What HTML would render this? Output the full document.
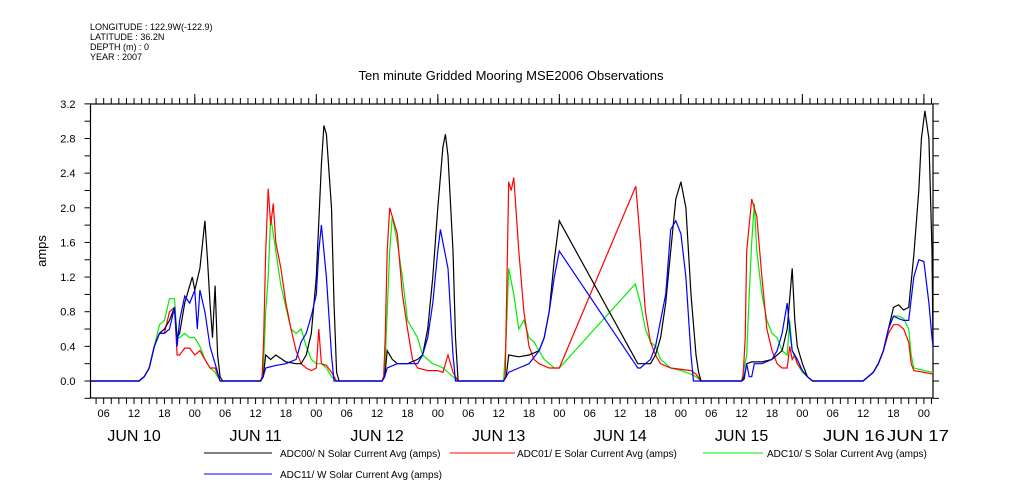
<!DOCTYPE html>
<html><head><meta charset="utf-8"><style>
body{margin:0;background:#fff;}
svg{display:block;font-family:"Liberation Sans",sans-serif;}
</style></head><body>
<svg id="chart" width="1009" height="504">
<g font-size="9" fill="#000">
<text x="90" y="30">LONGITUDE : 122.9W(-122.9)</text>
<text x="90" y="40">LATITUDE : 36.2N</text>
<text x="90" y="50">DEPTH (m) : 0</text>
<text x="90" y="60">YEAR : 2007</text>
</g>
<text x="511" y="80" text-anchor="middle" font-size="13">Ten minute Gridded Mooring MSE2006 Observations</text>
<text transform="translate(46,251) rotate(-90)" text-anchor="middle" font-size="13">amps</text>
<g id="axes"></g>
<g id="series"></g>
<g id="legend" font-size="10"></g>
</svg>
<script>
const yTicks=[0,0.4,0.8,1.2,1.6,2.0,2.4,2.8,3.2];
const hourLabels=["06","12","18","00"];
const dayLabels=["JUN 10","JUN 11","JUN 12","JUN 13","JUN 14","JUN 15"];
const seriesNames=["ADC00/ N Solar Current Avg (amps)","ADC01/ E Solar Current Avg (amps)","ADC10/ S Solar Current Avg (amps)","ADC11/ W Solar Current Avg (amps)"];
const common0=[[3.4,0],[13,0],[14,0.05],[15,0.15],[16,0.4]];
const seriesN=[...common0,[17,0.55],[18,0.6],[19,0.7],[20,0.85],[20.5,0.5],[21,0.55],[22,0.9],[23,1.1],[23.5,1.2],[24,1.05],[25,1.3],[26,1.85],[26.5,1.4],[27,0.9],[27.5,0.5],[28,1.1],[28.5,0.3],[29,0.05],[29.5,0],
[37,0],[37.5,0.05],[38,0.3],[39,0.25],[40,0.3],[42,0.22],[44,0.2],[45,0.2],[46,0.3],[47,0.55],[48,1.2],[49,2.5],[49.5,2.95],[50,2.85],[51,2.0],[51.5,0.9],[52,0.1],[52.5,0],
[61,0],[61.5,0.05],[62,0.35],[63,0.25],[64,0.2],[66,0.2],[68,0.25],[69,0.3],[70,0.6],[71,1.2],[72,2.0],[73,2.7],[73.5,2.85],[74,2.6],[75,1.5],[75.5,0.5],[76,0],
[85,0],[85.5,0.05],[86,0.3],[88,0.28],[90,0.3],[92,0.35],[93,0.5],[94,0.8],[95,1.4],[96,1.85],
[111.5,0.2],[113,0.2],[114,0.2],[115,0.3],[116,0.5],[117,0.9],[118,1.5],[119,2.1],[120,2.3],[121,2.0],[122,1.0],[123,0.3],[123.5,0.1],[124,0],
[132,0],[132.5,0.02],[133,0.2],[134,0.22],[136,0.22],[138,0.25],[140,0.35],[141,0.6],[142,1.3],[142.5,0.7],[143,0.4],[144,0.2],[145,0.05],[146,0],
[156,0],[158,0.1],[159,0.2],[160,0.35],[161,0.6],[162,0.85],[163,0.88],[164,0.82],[165,0.85],[166,1.45],[167,2.2],[167.5,2.8],[168.2,3.12],[169,2.8],[169.6,1.5],[169.8,0.4]];
const seriesE=[...common0,[17,0.55],[18,0.55],[19,0.8],[20,0.85],[20.5,0.3],[21,0.3],[22,0.38],[23,0.38],[24,0.3],[25,0.35],[26,0.25],[27,0.15],[28,0.15],[29,0],
[37,0],[37.3,0.05],[37.6,0.5],[38,1.5],[38.5,2.22],[39,1.8],[39.5,2.05],[40,1.6],[41,1.3],[42,0.9],[43,0.6],[44,0.35],[45,0.2],[46,0.15],[47,0.12],[48,0.15],[48.5,0.6],[49,0.2],[50,0.18],[51,0.1],[52,0],
[61,0],[61.3,0.05],[61.6,0.5],[62,1.5],[62.5,2.0],[63,1.9],[64,1.7],[65,1.0],[66,0.6],[67,0.25],[68,0.15],[70,0.12],[72,0.12],[73,0.1],[74,0.3],[75,0.1],[76,0],
[85,0],[85.3,0.05],[85.6,1.0],[86,2.3],[86.5,2.2],[87,2.35],[88,1.5],[89,0.8],[90,0.4],[91,0.25],[92,0.2],[94,0.15],[96,0.15],
[111.1,2.25],[112,1.6],[113,0.8],[114,0.45],[115,0.3],[116,0.2],[118,0.15],[122,0.12],[123,0.08],[124,0],
[132,0],[132.3,0.05],[132.7,0.5],[133,1.5],[134,2.1],[135,1.9],[136,1.2],[137,0.6],[138,0.35],[139,0.2],[140,0.15],[141,0.15],[141.5,0.4],[142,0.25],[142.5,0.3],[143,0.2],[144,0.12],[145,0.05],[146,0],
[156,0],[158,0.1],[159,0.2],[160,0.35],[161,0.55],[162,0.65],[163,0.65],[164,0.6],[165,0.45],[165.5,0.2],[166,0.12],[168,0.1],[169.8,0.08]];
const seriesS=[...common0,[17,0.65],[18,0.7],[19,0.95],[20,0.95],[20.5,0.5],[21,0.5],[22,0.55],[23,0.5],[24,0.5],[25,0.4],[26,0.25],[27,0.15],[28,0.1],[29,0],
[37,0],[37.5,0.1],[38,0.8],[38.5,1.2],[39,1.9],[40,1.5],[41,1.1],[42,0.85],[43,0.6],[44,0.55],[45,0.6],[46,0.4],[47,0.25],[48,0.2],[49,0.2],[50,0.15],[51,0.05],[52,0],
[61,0],[61.5,0.1],[62,0.8],[62.5,1.5],[63,1.9],[64,1.6],[65,1.2],[66,0.7],[67,0.6],[68,0.5],[69,0.3],[70,0.25],[71,0.2],[72,0.18],[73,0.15],[74,0.1],[75,0.05],[76,0],
[85,0],[85.5,0.5],[86,1.3],[87,1.0],[88,0.6],[89,0.7],[90,0.5],[91,0.45],[92,0.35],[93,0.25],[94,0.2],[95,0.15],[96,0.15],
[111,1.12],[112,0.9],[113,0.6],[114,0.45],[115,0.4],[116,0.25],[117,0.2],[118,0.15],[120,0.12],[122,0.08],[123,0.05],[124,0],
[132,0],[133,0.3],[133.5,1.0],[134,1.6],[134.5,2.05],[135,1.5],[136,1.0],[137,0.7],[138,0.55],[139,0.5],[140,0.35],[141,0.3],[141.5,0.7],[142,0.35],[143,0.2],[144,0.1],[145,0.05],[146,0],
[156,0],[158,0.1],[159,0.2],[160,0.35],[161,0.6],[162,0.75],[163,0.75],[164,0.72],[165,0.6],[165.5,0.3],[166,0.15],[168,0.12],[169.8,0.1]];
const seriesW=[...common0,[17,0.55],[18,0.55],[19,0.6],[20,0.85],[20.5,0.4],[21,0.7],[22,0.98],[23,0.9],[24,1.05],[24.5,0.6],[25,1.05],[26,0.8],[27,0.4],[28,0.2],[29,0],
[37,0],[37.5,0.05],[38,0.15],[40,0.18],[42,0.2],[44,0.25],[45,0.45],[46,0.55],[47,0.75],[48,1.0],[48.5,1.5],[49,1.8],[49.5,1.5],[50,1.2],[51,0.3],[51.5,0],
[61,0],[61.5,0.05],[62,0.15],[64,0.2],[66,0.2],[68,0.2],[69,0.3],[70,0.5],[71,0.9],[72,1.5],[72.5,1.75],[73,1.6],[74,1.3],[75,0.3],[75.5,0],
[85,0],[85.5,0.05],[86,0.1],[88,0.15],[90,0.2],[92,0.35],[93,0.5],[94,0.8],[95,1.2],[96,1.5],
[111.5,0.15],[112,0.15],[113,0.2],[114,0.25],[115,0.4],[116,0.7],[117,1.0],[118,1.75],[119,1.85],[120,1.7],[121,1.2],[122,0.3],[122.5,0],
[132,0],[132.5,0.05],[133,0.2],[133.5,0.05],[134,0.05],[134.5,0.2],[136,0.2],[138,0.25],[139,0.35],[140,0.55],[141,0.9],[141.5,0.6],[142,0.35],[143,0.25],[144,0.12],[145,0.05],[146,0],
[156,0],[158,0.1],[159,0.2],[160,0.35],[161,0.6],[162,0.75],[163,0.72],[164,0.7],[165,0.7],[166,1.2],[167,1.4],[168,1.38],[169,0.9],[169.6,0.5],[169.8,0.4]];
const colors=["#000","#f00","#0e0","#00f"];

const NS="http://www.w3.org/2000/svg";
const L=90.5,R=933,T=104,B=398,hStart=3.4,hEnd=169.8;
const xs=h=>L+(h-hStart)*(R-L)/(hEnd-hStart);
const ys=v=>381-v*86.6;
function mk(tag,attrs,parent){const e=document.createElementNS(NS,tag);for(const k in attrs)e.setAttribute(k,attrs[k]);parent.appendChild(e);return e;}
const axes=document.getElementById('axes');
let fr=mk('rect',{x:L,y:T,width:R-L,height:B-T,fill:'none',stroke:'#000','stroke-width':1.2},axes);


yTicks.forEach(v=>{
 const y=ys(v);
 let t=mk('line',{x1:L-6,x2:L,y1:y,y2:y,stroke:'#000'},axes);
 
 
 let t2=mk('line',{x1:R,x2:R+6,y1:y,y2:y,stroke:'#000'},axes);
 
 
 let tx=mk('text',{x:L-15,y:y+4,'text-anchor':'end','font-size':11},axes);
 tx.textContent=v.toFixed(1);
 
 
});
for(let v=-0.2;v<3.2;v+=0.4){const y=ys(v);
 let t=mk('line',{x1:L-6,x2:L,y1:y,y2:y,stroke:'#000'},axes);
 
 
 let t2=mk('line',{x1:R,x2:R+6,y1:y,y2:y,stroke:'#000'},axes);
 
 }
for(let h=4.5;h<=hEnd;h+=1.5){const x=xs(h);
 let a=mk('line',{x1:x,x2:x,y1:B,y2:B+6,stroke:'#000'},axes);
 
 
 let b=mk('line',{x1:x,x2:x,y1:T-6,y2:T,stroke:'#000'},axes);
 
 }
for(let h=6;h<=hEnd;h+=6){const x=xs(h);
 const lbl=hourLabels[(h/6-1)%4];
 let tx=mk('text',{x:x,y:417,'text-anchor':'middle','font-size':11},axes);
 tx.textContent=lbl;
 
 
 if(lbl==="00"){let b=mk('line',{x1:x,x2:x,y1:T-10,y2:T,stroke:'#000'},axes);
  
  }
}
dayLabels.forEach((d,i)=>{
 let tx=mk('text',{x:xs(i*24+12),y:441,'text-anchor':'middle','font-size':16},axes);
 tx.textContent=d;
 
 
});
let j16=mk('text',{x:854,y:441,'text-anchor':'middle','font-size':16,textLength:62,lengthAdjust:'spacingAndGlyphs'},axes);
j16.textContent="JUN 16";


let j17=mk('text',{x:918,y:441,'text-anchor':'middle','font-size':16,textLength:62,lengthAdjust:'spacingAndGlyphs'},axes);
j17.textContent="JUN 17";



const sg=document.getElementById('series');
const all=[seriesN,seriesE,seriesS,seriesW];
const order=[2,1,0,3];
order.forEach(i=>{
 const d=all[i].map(p=>xs(p[0]).toFixed(1)+','+ys(p[1]).toFixed(1)).join(' ');
 let pl=mk('polyline',{points:d,fill:'none',stroke:colors[i],'stroke-width':1.2},sg);
 
 
});
const lg=document.getElementById('legend');
const pos=[[204,272,280,453],[450,515,517,453],[703,763,767,453],[204,272,280,474]];
seriesNames.forEach((n,i)=>{const p=pos[i];
 let ln=mk('line',{x1:p[0],x2:p[1],y1:p[3],y2:p[3],stroke:colors[i],'stroke-width':1},lg);
 
 
 let tx=mk('text',{x:p[2],y:p[3]+4},lg);
 tx.textContent=n;
 
 
});
</script>
</body></html>
